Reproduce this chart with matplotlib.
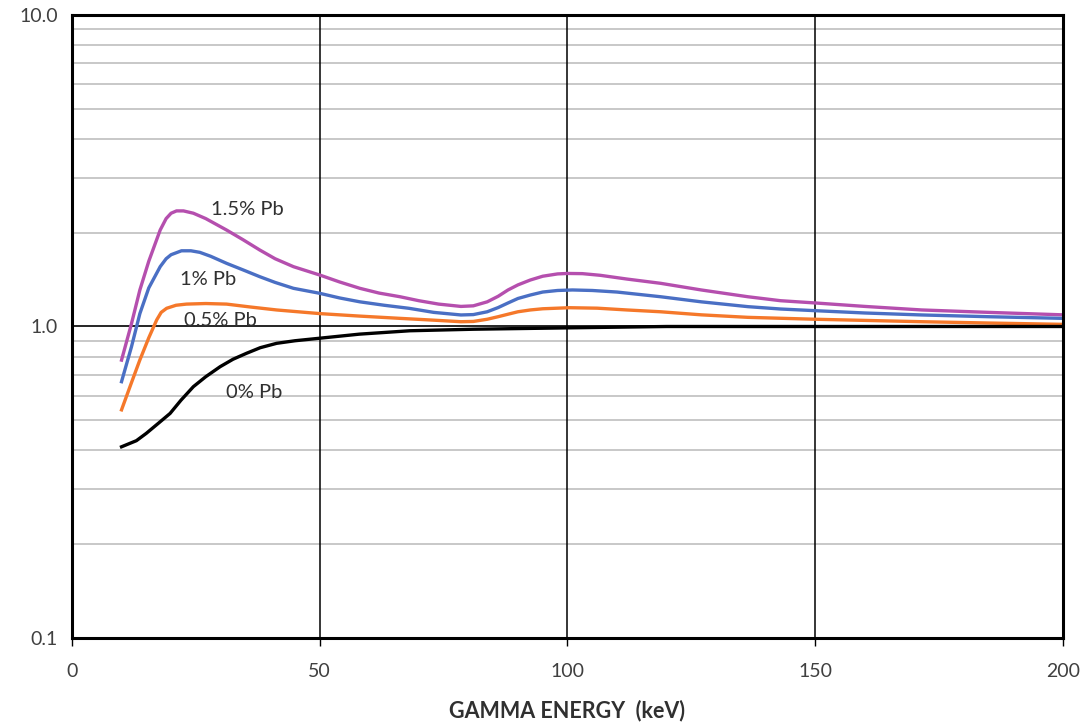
import matplotlib
matplotlib.use("Agg")
import matplotlib.pyplot as plt
from matplotlib.ticker import FixedLocator, NullFormatter

# readings (keV, relative response)
pb15_x = [10, 12, 13.7, 15.5, 17.8, 19, 20, 21.1, 22.5, 24.5, 27, 31.2, 34.5, 37.9, 41, 44.7, 50, 54, 58.1, 62, 66.2, 70, 74, 78.5, 81, 83.8, 86, 88, 90, 92.5, 95, 98, 100, 103, 106.6, 112, 118.8, 127, 136.4, 143, 150, 160, 171.5, 185, 200]
pb15_y = [0.78, 1.02, 1.31, 1.62, 2.04, 2.22, 2.31, 2.35, 2.35, 2.31, 2.22, 2.04, 1.9, 1.76, 1.65, 1.556, 1.463, 1.39, 1.326, 1.28, 1.246, 1.21, 1.18, 1.16, 1.165, 1.20, 1.25, 1.31, 1.36, 1.41, 1.45, 1.475, 1.48, 1.478, 1.46, 1.42, 1.376, 1.31, 1.246, 1.21, 1.19, 1.16, 1.13, 1.11, 1.09]

pb10_x = [10, 12, 13.7, 15.5, 17.8, 19, 20, 22.1, 24, 25.8, 28, 31.2, 34.5, 37.9, 41, 44.7, 50, 54, 58.1, 63, 68, 73, 78.5, 81, 83.8, 86, 88, 90, 92.5, 95, 98, 101, 105, 110, 118.8, 127, 136.4, 143, 150, 160, 171.5, 185, 200]
pb10_y = [0.665, 0.86, 1.10, 1.33, 1.556, 1.65, 1.70, 1.75, 1.75, 1.73, 1.68, 1.595, 1.52, 1.445, 1.385, 1.326, 1.278, 1.235, 1.20, 1.17, 1.144, 1.11, 1.089, 1.092, 1.115, 1.15, 1.19, 1.23, 1.262, 1.29, 1.305, 1.31, 1.305, 1.29, 1.246, 1.20, 1.158, 1.138, 1.124, 1.105, 1.089, 1.075, 1.062]

pb05_x = [10, 12, 13.7, 15.5, 17.1, 18, 19.1, 21, 23.1, 27, 31.2, 36, 41.3, 50, 58, 66.2, 72, 78.5, 81, 83.8, 86, 88, 90, 92.5, 95, 100.4, 106, 112, 118.8, 127, 136.4, 150, 171.5, 185, 200]
pb05_y = [0.54, 0.66, 0.781, 0.92, 1.05, 1.11, 1.144, 1.17, 1.18, 1.185, 1.18, 1.155, 1.13, 1.10, 1.08, 1.062, 1.05, 1.036, 1.038, 1.055, 1.075, 1.095, 1.115, 1.13, 1.14, 1.149, 1.145, 1.13, 1.115, 1.09, 1.07, 1.055, 1.036, 1.026, 1.016]

pb00_x = [10, 13, 15, 17.5, 19.8, 22, 24.5, 27, 29.9, 32.5, 35.2, 38, 41.3, 45, 50, 58, 68.2, 81, 100, 120, 150, 200]
pb00_y = [0.411, 0.43, 0.454, 0.49, 0.526, 0.58, 0.641, 0.69, 0.743, 0.785, 0.82, 0.855, 0.883, 0.90, 0.917, 0.945, 0.969, 0.98, 0.99, 1.0, 1.0, 1.0]

labels = ["1.5% Pb", "1% Pb", "0.5% Pb", "0% Pb"]
label_pos = [(28, 2.37), (21.8, 1.42), (22.6, 1.049), (31.1, 0.612)]

xticks = [0, 50, 100, 150, 200]
yticks = [0.1, 1.0, 10.0]

plt.rcParams['font.family'] = ['Lato', 'DejaVu Sans']

fig = plt.figure(figsize=(10.89, 7.27), dpi=100)
ax = fig.add_axes([0.0661, 0.1224, 0.91, 0.857])

ax.set_yscale('log')
ax.set_xlim(0, 200)
ax.set_ylim(0.1, 10)

# grid: grey minor rows, black at 1.0 and the x ticks
minor = [m * 10.0 ** e for e in (-1, 0) for m in range(2, 10)]
for v in minor:
    ax.axhline(v, color='#c4c4c4', lw=1.3, zorder=1)
ax.axhline(1.0, color='black', lw=1.2, zorder=2)
for v in xticks[1:-1]:
    ax.axvline(v, color='black', lw=1.1, zorder=2)

ax.plot(pb15_x, pb15_y, color='#b54fae', lw=2.4, zorder=3, solid_joinstyle='round')
ax.plot(pb10_x, pb10_y, color='#4a6fc4', lw=2.4, zorder=3, solid_joinstyle='round')
ax.plot(pb05_x, pb05_y, color='#f5782a', lw=2.4, zorder=3, solid_joinstyle='round')
ax.plot(pb00_x, pb00_y, color='black', lw=2.4, zorder=3, solid_joinstyle='round')

for t, (x, y) in zip(labels, label_pos):
    ax.text(x, y, t, fontsize=14.5, color='#303030', va='center', ha='left', zorder=4)

ax.set_xticks(xticks)
ax.set_xticklabels([str(v) for v in xticks], fontsize=14, color='#404040')
ax.yaxis.set_major_locator(FixedLocator(yticks))
ax.yaxis.set_minor_formatter(NullFormatter())
ax.set_yticklabels(['0.1', '1.0', '10.0'], fontsize=14, color='#404040')
ax.tick_params(axis='y', which='both', length=0, pad=10)
ax.tick_params(axis='x', length=6, width=1, direction='out', pad=12)

for s in ax.spines.values():
    s.set_linewidth(2.2)
    s.set_zorder(5)

ax.set_xlabel('GAMMA ENERGY  (keV)', fontsize=15.5, fontweight='bold', color='#303030', labelpad=14)

fig.savefig('out.png', dpi=100)
